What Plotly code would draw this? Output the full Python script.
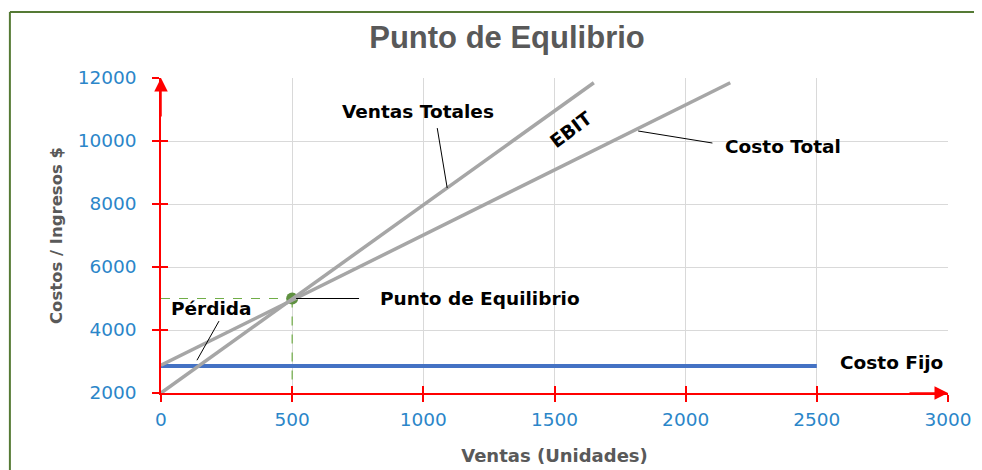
import plotly.graph_objects as go

# ---------------- data ----------------
unidades_ventas = [0, 1650]
ventas_totales = [2000, 11850]

unidades_costo = [0, 2170]
costo_total = [2880, 11850]

unidades_fijo = [0, 2500]
costo_fijo = [2860, 2860]

punto_eq_x = 500
punto_eq_y = 5000

x_ticks = [0, 500, 1000, 1500, 2000, 2500, 3000]
x_tick_labels = ["0", "500", "1000", "1500", "2000", "2500", "3000"]
y_ticks = [2000, 4000, 6000, 8000, 10000, 12000]
y_tick_labels = ["2000", "4000", "6000", "8000", "10000", "12000"]

# label anchors (data coords) and leader lines
label_ventas = ("Ventas Totales", 980, 10950)
leader_ventas = ([1053, 1091], [10410, 8505])
label_ebit = ("EBIT", 1564, 10350)
label_costo_total = ("Costo Total", 2143, 9840)
leader_costo_total = ([1819, 2102], [10317, 9936])
label_pe = ("Punto de Equilibrio", 828, 5000)
leader_pe = ([515, 755], [5000, 5000])
label_perdida = ("Pérdida", 191, 4693)
leader_perdida = ([221, 137], [4282, 3040])
label_fijo = ("Costo Fijo", 2582, 2975)

GRAY = "#a6a6a6"
BLUE = "#4472c4"
RED = "#ff0000"
GREEN = "#70ad47"
TICKBLUE = "#2b86c9"
TXT = "#595959"
ANN_FONT = dict(family="DejaVu Sans", size=18.5, color="black", weight="bold")

fig = go.Figure()

# dashed guides to the break-even point
fig.add_trace(go.Scatter(x=[0, punto_eq_x], y=[punto_eq_y, punto_eq_y], mode="lines",
                         line=dict(color=GREEN, width=1.2, dash="dash"), hoverinfo="skip"))
fig.add_trace(go.Scatter(x=[punto_eq_x, punto_eq_x], y=[punto_eq_y, y_ticks[0]], mode="lines",
                         line=dict(color=GREEN, width=1.2, dash="dash"), hoverinfo="skip"))
# break-even marker
fig.add_trace(go.Scatter(x=[punto_eq_x], y=[punto_eq_y], mode="markers",
                         marker=dict(color="#5f9140", size=12), hoverinfo="skip"))
# cost / sales lines
fig.add_trace(go.Scatter(x=unidades_fijo, y=costo_fijo, mode="lines",
                         line=dict(color=BLUE, width=4)))
fig.add_trace(go.Scatter(x=unidades_costo, y=costo_total, mode="lines",
                         line=dict(color=GRAY, width=3.5)))
fig.add_trace(go.Scatter(x=unidades_ventas, y=ventas_totales, mode="lines",
                         line=dict(color=GRAY, width=3.5)))

# leader lines
for lx, ly in [leader_ventas, leader_costo_total, leader_pe, leader_perdida]:
    fig.add_trace(go.Scatter(x=lx, y=ly, mode="lines",
                             line=dict(color="black", width=1), hoverinfo="skip"))

# empty trace for the overlay axes (inside half of the cross ticks)
fig.add_trace(go.Scatter(x=[], y=[], xaxis="x2", yaxis="y2", hoverinfo="skip"))

# text labels
fig.add_annotation(text=label_ventas[0], x=label_ventas[1], y=label_ventas[2],
                   showarrow=False, font=ANN_FONT)
fig.add_annotation(text=label_ebit[0], x=label_ebit[1], y=label_ebit[2],
                   showarrow=False, font=ANN_FONT, textangle=-37)
fig.add_annotation(text=label_costo_total[0], x=label_costo_total[1], y=label_costo_total[2],
                   showarrow=False, font=ANN_FONT, xanchor="left")
fig.add_annotation(text=label_pe[0], x=label_pe[1], y=label_pe[2],
                   showarrow=False, font=ANN_FONT, xanchor="left")
fig.add_annotation(text=label_perdida[0], x=label_perdida[1], y=label_perdida[2],
                   showarrow=False, font=ANN_FONT)
fig.add_annotation(text=label_fijo[0], x=label_fijo[1], y=label_fijo[2],
                   showarrow=False, font=ANN_FONT, xanchor="left")

# axis arrow heads
fig.add_annotation(text="", x=x_ticks[0], y=y_ticks[-1], ax=0, ay=40, showarrow=True,
                   arrowhead=2, arrowsize=1.8, arrowwidth=1.5, arrowcolor=RED, standoff=0)
fig.add_annotation(text="", x=x_ticks[-1], y=y_ticks[0], ax=-40, ay=0, showarrow=True,
                   arrowhead=2, arrowsize=1.8, arrowwidth=1.5, arrowcolor=RED, standoff=0)

# frame
fig.add_shape(type="line", xref="paper", yref="paper", x0=-0.192, x1=1.06, y0=1.2095, y1=1.2095,
              line=dict(color="#557a35", width=2))
fig.add_shape(type="line", xref="paper", yref="paper", x0=-0.192, x1=-0.192, y0=1.2095, y1=-0.3,
              line=dict(color="#557a35", width=2))

axis_common = dict(showline=True, linecolor=RED, linewidth=1.5, ticks="outside", ticklen=7,
                   tickcolor=RED, tickwidth=1.5, gridcolor="#d9d9d9", gridwidth=1,
                   zeroline=False, automargin=False,
                   tickfont=dict(family="DejaVu Sans", size=18.5, color=TICKBLUE))

fig.update_layout(
    width=974, height=462,
    margin=dict(l=153, r=34, t=70, b=77, autoexpand=False),
    paper_bgcolor="white", plot_bgcolor="white",
    showlegend=False,
    title=dict(text="Punto de Equlibrio", x=499 / 974, xanchor="center", y=1 - 29 / 462,
               yanchor="middle", yref="container",
               font=dict(family="Liberation Sans", size=31, color=TXT, weight="bold")),
    xaxis=dict(range=[x_ticks[0], x_ticks[-1]], tickvals=x_ticks, ticktext=x_tick_labels,
               ticklabelstandoff=2,
               title=dict(text="Ventas (Unidades)", standoff=20,
                          font=dict(family="DejaVu Sans", size=18, color=TXT, weight="bold")),
               **axis_common),
    yaxis=dict(range=[y_ticks[0], y_ticks[-1]], tickvals=y_ticks, ticktext=y_tick_labels,
               ticklabelstandoff=12,
               title=dict(text="Costos / Ingresos $", standoff=11,
                          font=dict(family="DejaVu Sans", size=16.5, color=TXT, weight="bold")),
               **axis_common),
    xaxis2=dict(overlaying="x", anchor="y2", range=[x_ticks[0], x_ticks[-1]], tickvals=x_ticks,
                ticks="inside", ticklen=7, tickcolor=RED, tickwidth=1.5, showticklabels=False,
                showgrid=False, zeroline=False, showline=False),
    yaxis2=dict(overlaying="y", anchor="x2", range=[y_ticks[0], y_ticks[-1]], tickvals=y_ticks,
                ticks="inside", ticklen=7, tickcolor=RED, tickwidth=1.5, showticklabels=False,
                showgrid=False, zeroline=False, showline=False),
)

fig.write_html("out.html")
